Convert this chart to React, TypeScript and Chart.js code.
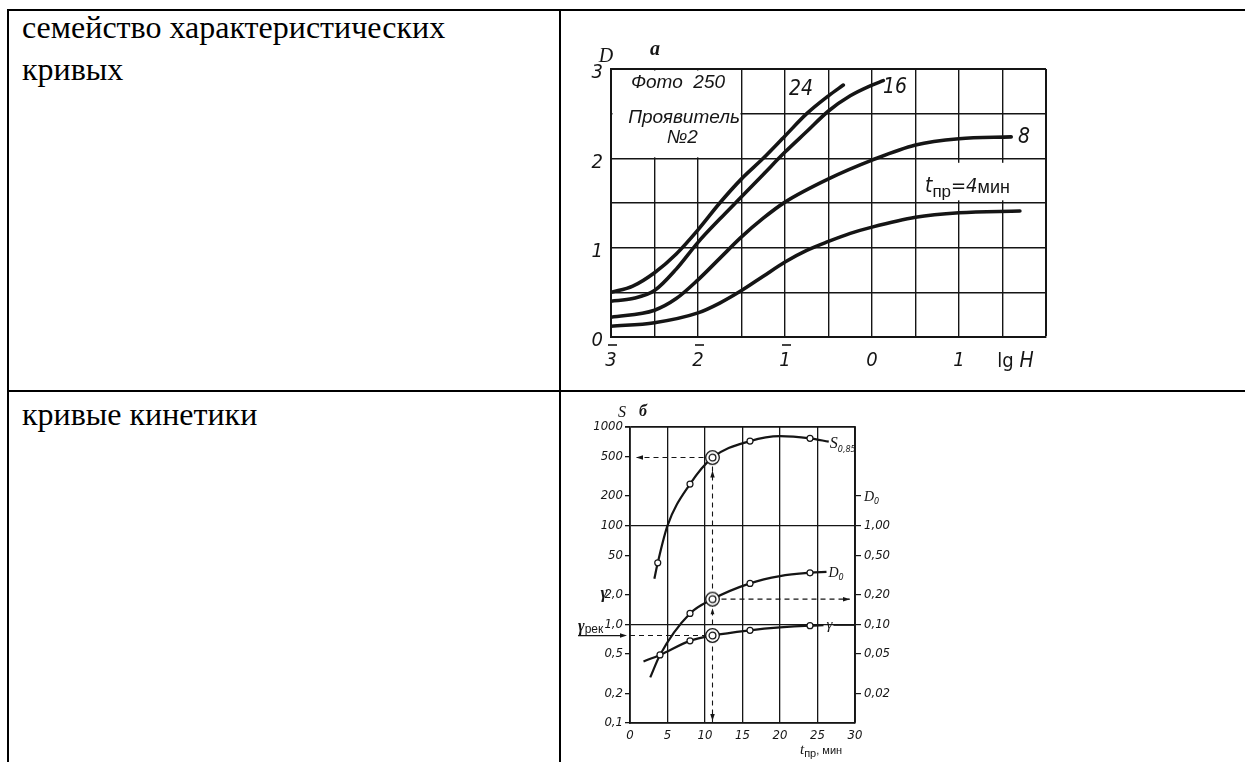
import React, { useEffect, useRef } from 'react';
import { Chart, registerables } from 'chart.js';

Chart.register(...registerables);

const INK = '#151515';
const NARROW = "'Liberation Sans Narrow', 'DejaVu Sans Condensed', 'Arial Narrow', sans-serif";
const SANS = "'Liberation Sans', 'DejaVu Sans', Arial, sans-serif";
const SERIF = "'Liberation Serif', 'DejaVu Serif', 'Times New Roman', serif";

// ---------- Figure а: characteristic curves D(lg H), one per development time ----------
const lgH4 = [-3, -2.5, -2, -1.75, -1.5, -1.25, -1, -0.75, -0.5, -0.25, 0, 0.5, 1, 1.7];
const D4 = [0.12, 0.16, 0.27, 0.38, 0.52, 0.68, 0.84, 0.97, 1.07, 1.16, 1.23, 1.34, 1.39, 1.41];
const lgH8 = [-3, -2.5, -2.25, -2, -1.75, -1.5, -1.25, -1, -0.5, 0, 0.5, 1, 1.6];
const D8 = [0.22, 0.3, 0.43, 0.64, 0.88, 1.12, 1.33, 1.51, 1.77, 1.98, 2.15, 2.22, 2.24];
const lgH16 = [-3, -2.75, -2.5, -2.25, -2, -1.75, -1.5, -1.25, -1, -0.75, -0.5, -0.25, 0, 0.13];
const D16 = [0.4, 0.43, 0.52, 0.76, 1.06, 1.32, 1.57, 1.82, 2.07, 2.3, 2.53, 2.7, 2.82, 2.87];
const lgH24 = [-3, -2.75, -2.5, -2.25, -2, -1.75, -1.5, -1.25, -1, -0.75, -0.5, -0.33];
const D24 = [0.5, 0.57, 0.72, 0.93, 1.2, 1.5, 1.77, 2.0, 2.25, 2.5, 2.7, 2.82];

const lgHTicks = [-3, -2, -1, 0, 1];
const lgHTickText = ['3', '2', '1', '0', '1'];
const lgHTickBarred = [true, true, true, false, false];
const dTicks = [0, 1, 2, 3];

// ---------- Figure б: kinetics of S, D0 and gamma vs development time ----------
const tS = [3.25, 3.7, 5, 8, 11, 16, 20, 24, 26.5];
const sens = [29, 42, 100, 264, 490, 720, 810, 767, 710];
const tD0 = [2.7, 4, 8, 11, 16, 20, 24, 26.2];
const fog = [0.029, 0.049, 0.129, 0.18, 0.26, 0.308, 0.333, 0.34];
const tGamma = [1.8, 4, 8, 11, 16, 20, 24, 25.8];
const gamma = [0.42, 0.49, 0.68, 0.77, 0.87, 0.93, 0.97, 0.98];

const tMeasS = [3.7, 8, 16, 24];
const sensMeas = [42, 264, 720, 767];
const tMeasD0 = [8, 16, 24];
const fogMeas = [0.129, 0.26, 0.333];
const tMeasGamma = [4, 8, 16, 24];
const gammaMeas = [0.49, 0.68, 0.87, 0.97];

const tChosen = 11;
const sensChosen = 490;
const fogChosen = 0.18;
const gammaRec = 0.77;

const gammaAxisTicks = [100, 50, 20, 10, 5, 2, 1, 0.5, 0.2, 0.1];
const gammaAxisLabels = ['1000', '500', '200', '100', '50', '2,0', '1,0', '0,5', '0,2', '0,1'];
const gammaGridValues = [100, 10, 1, 0.1];
const fogAxisTicks = [2, 1, 0.5, 0.2, 0.1, 0.05, 0.02];
const fogAxisLabels = ['', '1,00', '0,50', '0,20', '0,10', '0,05', '0,02'];

// ---------- drawing helpers ----------
const xy = (xs: number[], ys: number[]) => xs.map((x, i) => ({ x, y: ys[i] }));
const sameLog = (a: number, b: number) => Math.abs(Math.log10(a) - Math.log10(b)) < 1e-6;

function text(ctx: CanvasRenderingContext2D, s: string, x: number, y: number, font: string, align: CanvasTextAlign = 'center', baseline: CanvasTextBaseline = 'middle') {
  ctx.save();
  ctx.font = font;
  ctx.fillStyle = INK;
  ctx.textAlign = align;
  ctx.textBaseline = baseline;
  ctx.fillText(s, x, y);
  ctx.restore();
}

// left-aligned run of pieces on a common baseline, each with its own font and vertical shift
function run(ctx: CanvasRenderingContext2D, parts: Array<[string, string, number]>, x: number, y: number) {
  ctx.save();
  ctx.fillStyle = INK;
  ctx.textAlign = 'left';
  ctx.textBaseline = 'alphabetic';
  let cx = x;
  for (const [s, font, dy] of parts) {
    ctx.font = font;
    ctx.fillText(s, cx, y + dy);
    cx += ctx.measureText(s).width;
  }
  ctx.restore();
  return cx;
}

function arrow(ctx: CanvasRenderingContext2D, x: number, y: number, dir: 'left' | 'right' | 'up' | 'down', size = 7) {
  const dx = dir === 'left' ? 1 : dir === 'right' ? -1 : 0;
  const dy = dir === 'up' ? 1 : dir === 'down' ? -1 : 0;
  const bx = x + dx * size;
  const by = y + dy * size;
  const px = -dy;
  const py = dx;
  const w = size * 0.32;
  ctx.save();
  ctx.fillStyle = INK;
  ctx.beginPath();
  ctx.moveTo(x, y);
  ctx.lineTo(bx + px * w, by + py * w);
  ctx.lineTo(bx - px * w, by - py * w);
  ctx.closePath();
  ctx.fill();
  ctx.restore();
}

function makeRing() {
  const c = document.createElement('canvas');
  c.width = 17;
  c.height = 17;
  const g = c.getContext('2d')!;
  g.fillStyle = '#fff';
  g.strokeStyle = INK;
  g.lineWidth = 1.3;
  g.beginPath();
  g.arc(8.5, 8.5, 6.8, 0, Math.PI * 2);
  g.fill();
  g.stroke();
  g.beginPath();
  g.arc(8.5, 8.5, 3.4, 0, Math.PI * 2);
  g.stroke();
  return c;
}

// ---------- figure а ----------
const figureALabels = {
  id: 'figureALabels',
  beforeDatasetsDraw(chart: any) {
    const { ctx, scales } = chart;
    const x = scales.x;
    const y = scales.y;
    ctx.save();
    ctx.fillStyle = '#fff';
    // caption box in the upper left corner of the grid
    const l = x.getPixelForValue(-3) + 1.5;
    const r = x.getPixelForValue(-1.5) - 1;
    const t = y.getPixelForValue(3) + 1.5;
    const b = y.getPixelForValue(2) - 1;
    ctx.fillRect(l, t, r - l, b - t);
    // clear space behind the development-time label
    const l2 = x.getPixelForValue(0.55);
    const r2 = x.getPixelForValue(1.8);
    const t2 = y.getPixelForValue(1.95);
    const b2 = y.getPixelForValue(1.53);
    ctx.fillRect(l2, t2, r2 - l2, b2 - t2);
    ctx.restore();

    const f = `italic 19px ${SANS}`;
    text(ctx, 'Фото  250', x.getPixelForValue(-2.23), y.getPixelForValue(2.85), f);
    text(ctx, 'Проявитель', x.getPixelForValue(-2.16), y.getPixelForValue(2.45), f);
    text(ctx, '№2', x.getPixelForValue(-2.18), y.getPixelForValue(2.23), f);
  },
  afterDatasetsDraw(chart: any) {
    const { ctx, chartArea: ca, scales } = chart;
    const x = scales.x;
    const y = scales.y;
    const fnum = `italic 21px ${NARROW}`;
    text(ctx, '24', x.getPixelForValue(-0.816), y.getPixelForValue(2.765), fnum);
    text(ctx, '16', x.getPixelForValue(0.264), y.getPixelForValue(2.787), fnum);
    text(ctx, '8', x.getPixelForValue(1.747), y.getPixelForValue(2.228), fnum);

    run(ctx, [
      ['t', `italic 21px ${NARROW}`, 0],
      ['пр', `17px ${SANS}`, 5],
      ['=4', `italic 20px ${NARROW}`, 0],
      ['мин', `18px ${SANS}`, 1],
    ], x.getPixelForValue(0.609), y.getPixelForValue(1.623));

    text(ctx, 'D', ca.left - 5, ca.top - 12, `italic 20px ${SERIF}`);
    text(ctx, 'а', ca.left + 44, ca.top - 19, `bold italic 20px ${SERIF}`);

    run(ctx, [
      ['lg ', `20px ${NARROW}`, 0],
      ['H', `italic 21px ${NARROW}`, 0],
    ], x.getPixelForValue(1.44), ca.bottom + 30);

    // bars over the negative characteristics of lg H
    ctx.save();
    ctx.strokeStyle = INK;
    ctx.lineWidth = 1.6;
    lgHTicks.forEach((v, i) => {
      if (!lgHTickBarred[i]) return;
      const px = x.getPixelForValue(v);
      ctx.beginPath();
      ctx.moveTo(px - 3, ca.bottom + 8);
      ctx.lineTo(px + 6, ca.bottom + 8);
      ctx.stroke();
    });
    ctx.restore();
  },
};

function configA(): any {
  const curve = (xs: number[], ys: number[]) => ({
    data: xy(xs, ys),
    borderColor: INK,
    borderWidth: 3.6,
    borderCapStyle: 'round',
    pointRadius: 0,
    cubicInterpolationMode: 'monotone',
    fill: false,
  });
  return {
    type: 'line',
    data: {
      datasets: [curve(lgH4, D4), curve(lgH8, D8), curve(lgH16, D16), curve(lgH24, D24)],
    },
    options: {
      responsive: false,
      animation: false,
      events: [],
      layout: { padding: { top: 58, right: 76, left: 0, bottom: 0 } },
      plugins: { legend: { display: false }, tooltip: { enabled: false } },
      scales: {
        x: {
          type: 'linear',
          min: -3,
          max: 2,
          afterFit: (s: any) => { s.height = 46; },
          ticks: {
            stepSize: 0.5,
            autoSkip: false,
            maxRotation: 0,
            padding: 12,
            color: INK,
            font: { family: NARROW, size: 20, style: 'italic' },
            callback: (v: number) => {
              const i = lgHTicks.findIndex((t) => Math.abs(t - v) < 1e-6);
              return i >= 0 ? lgHTickText[i] : '';
            },
          },
          grid: {
            color: INK,
            lineWidth: (c: any) => (c.tick && Math.abs(c.tick.value - 2) < 1e-6 ? 2 : 1.4),
            drawTicks: false,
          },
          border: { display: true, color: INK, width: 2 },
        },
        y: {
          type: 'linear',
          min: 0,
          max: 3,
          afterFit: (s: any) => { s.width = 49; },
          ticks: {
            stepSize: 0.5,
            autoSkip: false,
            padding: 8,
            labelOffset: 4,
            color: INK,
            font: { family: NARROW, size: 20, style: 'italic' },
            callback: (v: number) => (dTicks.some((t) => Math.abs(t - v) < 1e-6) ? String(Math.round(v)) : ''),
          },
          grid: {
            color: INK,
            lineWidth: (c: any) => (c.tick && Math.abs(c.tick.value - 3) < 1e-6 ? 2 : 1.4),
            drawTicks: false,
          },
          border: { display: true, color: INK, width: 2 },
        },
      },
    },
    plugins: [figureALabels],
  };
}

// ---------- figure б ----------
const figureBLabels = {
  id: 'figureBLabels',
  afterDatasetsDraw(chart: any) {
    const { ctx, chartArea: ca, scales } = chart;
    const x = scales.x;
    const yG = scales.y;
    const yS = scales.yS;
    const yD = scales.yD;
    const xc = x.getPixelForValue(tChosen);
    const ySc = yS.getPixelForValue(sensChosen);
    const yDc = yD.getPixelForValue(fogChosen);
    const yGc = yG.getPixelForValue(gammaRec);

    arrow(ctx, ca.left + 6, ySc, 'left', 7);
    arrow(ctx, xc, ySc + 13, 'up', 7);
    arrow(ctx, xc, yDc + 9, 'up', 6);
    arrow(ctx, xc, ca.bottom - 2, 'down', 7);
    arrow(ctx, ca.right - 5, yDc, 'right', 7);

    // recommended gamma pointer at the left axis
    ctx.save();
    ctx.strokeStyle = INK;
    ctx.lineWidth = 1.2;
    ctx.beginPath();
    ctx.moveTo(ca.left - 52, yGc);
    ctx.lineTo(ca.left - 8, yGc);
    ctx.stroke();
    ctx.restore();
    arrow(ctx, ca.left - 3, yGc, 'right', 7);
    run(ctx, [
      ['γ', `bold italic 16px ${SERIF}`, 0],
      ['рек', `12px ${SANS}`, 2],
    ], ca.left - 52, yGc - 5);

    text(ctx, 'S', ca.left - 8, ca.top - 14, `italic 16px ${SERIF}`);
    text(ctx, 'б', ca.left + 13, ca.top - 15, `bold italic 16px ${SERIF}`);
    text(ctx, 'γ', ca.left - 26, yG.getPixelForValue(2) - 1, `bold italic 17px ${SERIF}`);

    run(ctx, [
      ['D', `italic 14px ${SERIF}`, 0],
      ['0', `italic 9px ${NARROW}`, 3],
    ], ca.right + 9, yD.getPixelForValue(2) + 5);

    // curve names
    run(ctx, [
      ['S', `italic 16px ${SERIF}`, 0],
      ['0,85', `italic 9px ${NARROW}`, 4],
    ], x.getPixelForValue(tS[tS.length - 1]) + 1, yS.getPixelForValue(sens[sens.length - 1]) + 6);
    run(ctx, [
      ['D', `italic 14px ${SERIF}`, 0],
      ['0', `italic 9px ${NARROW}`, 3],
    ], x.getPixelForValue(tD0[tD0.length - 1]) + 2, yD.getPixelForValue(fog[fog.length - 1]) + 5);
    const gx = x.getPixelForValue(tGamma[tGamma.length - 1]) + 3;
    const gy = yG.getPixelForValue(gamma[gamma.length - 1]);
    const end = run(ctx, [['γ', `italic 15px ${SERIF}`, 0]], gx, gy + 4);
    ctx.save();
    ctx.strokeStyle = INK;
    ctx.lineWidth = 1.3;
    ctx.beginPath();
    ctx.moveTo(end + 1, gy);
    ctx.lineTo(ca.right - 1, gy);
    ctx.stroke();
    ctx.restore();

    run(ctx, [
      ['t', `italic 15px ${SERIF}`, 0],
      ['пр', `11px ${SANS}`, 3],
      [', мин', `11px ${SANS}`, 0],
    ], ca.right - 55, ca.bottom + 31);
  },
};

function configB(ring: HTMLCanvasElement): any {
  const marker = (xs: number[], ys: number[], axis: string) => ({
    data: xy(xs, ys),
    yAxisID: axis,
    showLine: false,
    pointStyle: 'circle',
    pointRadius: 3,
    pointBorderWidth: 1.2,
    pointBorderColor: INK,
    pointBackgroundColor: '#fff',
  });
  const chosen = (t: number, v: number, axis: string) => ({
    data: [{ x: t, y: v }],
    yAxisID: axis,
    showLine: false,
    pointStyle: ring,
    pointRadius: 8,
  });
  const curve = (xs: number[], ys: number[], axis: string) => ({
    data: xy(xs, ys),
    yAxisID: axis,
    borderColor: INK,
    borderWidth: 2.2,
    pointRadius: 0,
    cubicInterpolationMode: 'monotone',
    fill: false,
  });
  const dashed = (pts: Array<{ x: number; y: number }>, axis: string) => ({
    data: pts,
    yAxisID: axis,
    borderColor: INK,
    borderWidth: 1.1,
    borderDash: [5, 4],
    pointRadius: 0,
    fill: false,
  });
  const tick13 = { family: NARROW, size: 13, style: 'italic' };
  return {
    type: 'line',
    data: {
      datasets: [
        chosen(tChosen, sensChosen, 'yS'),
        chosen(tChosen, fogChosen, 'yD'),
        chosen(tChosen, gammaRec, 'y'),
        marker(tMeasS, sensMeas, 'yS'),
        marker(tMeasD0, fogMeas, 'yD'),
        marker(tMeasGamma, gammaMeas, 'y'),
        curve(tS, sens, 'yS'),
        curve(tD0, fog, 'yD'),
        curve(tGamma, gamma, 'y'),
        dashed([{ x: tChosen, y: sensChosen }, { x: 0.9, y: sensChosen }], 'yS'),
        dashed([{ x: tChosen, y: sensChosen / 10 }, { x: tChosen, y: 0.1 }], 'y'),
        dashed([{ x: tChosen, y: fogChosen }, { x: 29.3, y: fogChosen }], 'yD'),
        dashed([{ x: 0, y: gammaRec }, { x: tChosen, y: gammaRec }], 'y'),
      ],
    },
    options: {
      responsive: false,
      animation: false,
      events: [],
      layout: { padding: { top: 32, right: 0, left: 0, bottom: 0 } },
      plugins: { legend: { display: false }, tooltip: { enabled: false } },
      scales: {
        x: {
          type: 'linear',
          min: 0,
          max: 30,
          afterFit: (s: any) => { s.height = 39; },
          ticks: { stepSize: 5, autoSkip: false, maxRotation: 0, padding: 5, color: INK, font: tick13 },
          grid: {
            color: INK,
            lineWidth: (c: any) => (c.tick && c.tick.value === 30 ? 1.8 : 1.3),
            drawTicks: false,
          },
          border: { display: true, color: INK, width: 1.8 },
        },
        y: {
          type: 'logarithmic',
          position: 'left',
          min: 0.1,
          max: 100,
          afterFit: (s: any) => { s.width = 68; },
          afterBuildTicks: (s: any) => { s.ticks = gammaAxisTicks.map((v) => ({ value: v })); },
          ticks: {
            autoSkip: false,
            padding: 2,
            color: INK,
            font: tick13,
            callback: (v: number) => {
              const i = gammaAxisTicks.findIndex((t) => sameLog(t, v));
              return i >= 0 ? gammaAxisLabels[i] : '';
            },
          },
          grid: {
            color: (c: any) => (c.tick && gammaGridValues.some((g) => sameLog(g, c.tick.value)) ? INK : 'rgba(0,0,0,0)'),
            tickColor: INK,
            tickLength: 5,
            lineWidth: (c: any) => (c.tick && sameLog(c.tick.value, 100) ? 1.8 : 1.3),
          },
          border: { display: true, color: INK, width: 1.8 },
        },
        yS: { type: 'logarithmic', display: false, min: 1, max: 1000 },
        yD: {
          type: 'logarithmic',
          position: 'right',
          min: 0.01,
          max: 10,
          afterFit: (s: any) => { s.width = 37; },
          afterBuildTicks: (s: any) => { s.ticks = fogAxisTicks.map((v) => ({ value: v })); },
          ticks: {
            autoSkip: false,
            padding: 3,
            color: INK,
            font: tick13,
            callback: (v: number) => {
              const i = fogAxisTicks.findIndex((t) => sameLog(t, v));
              return i >= 0 ? fogAxisLabels[i] : '';
            },
          },
          grid: { drawOnChartArea: false, color: INK, tickLength: 6, lineWidth: 1.2 },
          border: { display: true, color: INK, width: 1.8 },
        },
      },
    },
    plugins: [figureBLabels],
  };
}

const rule: React.CSSProperties = { position: 'absolute', background: '#000' };
const cellText: React.CSSProperties = {
  position: 'absolute',
  left: 22,
  fontFamily: SERIF,
  fontSize: 32,
  lineHeight: '42px',
  color: '#000',
  whiteSpace: 'nowrap',
};

export default function App() {
  const refA = useRef<HTMLCanvasElement>(null);
  const refB = useRef<HTMLCanvasElement>(null);

  useEffect(() => {
    const a = new Chart(refA.current!, configA());
    const b = new Chart(refB.current!, configB(makeRing()));
    return () => {
      a.destroy();
      b.destroy();
    };
  }, []);

  return (
    <div style={{ position: 'fixed', left: 0, top: 0, width: 1245, height: 762, overflow: 'hidden', background: '#fff' }}>
      <div style={{ ...rule, left: 7, top: 9, width: 1260, height: 2 }} />
      <div style={{ ...rule, left: 7, top: 9, width: 2, height: 770 }} />
      <div style={{ ...rule, left: 559, top: 9, width: 2, height: 770 }} />
      <div style={{ ...rule, left: 7, top: 390, width: 1260, height: 2 }} />

      <div style={{ ...cellText, top: 6 }}>
        семейство характеристических
        <br />
        кривых
      </div>
      <div style={{ ...cellText, top: 393 }}>кривые кинетики</div>

      <canvas
        ref={refA}
        width={560}
        height={372}
        style={{ position: 'absolute', left: 562, top: 11, width: 560, height: 372 }}
      />
      <canvas
        ref={refB}
        width={330}
        height={367}
        style={{ position: 'absolute', left: 562, top: 395, width: 330, height: 367 }}
      />
    </div>
  );
}
